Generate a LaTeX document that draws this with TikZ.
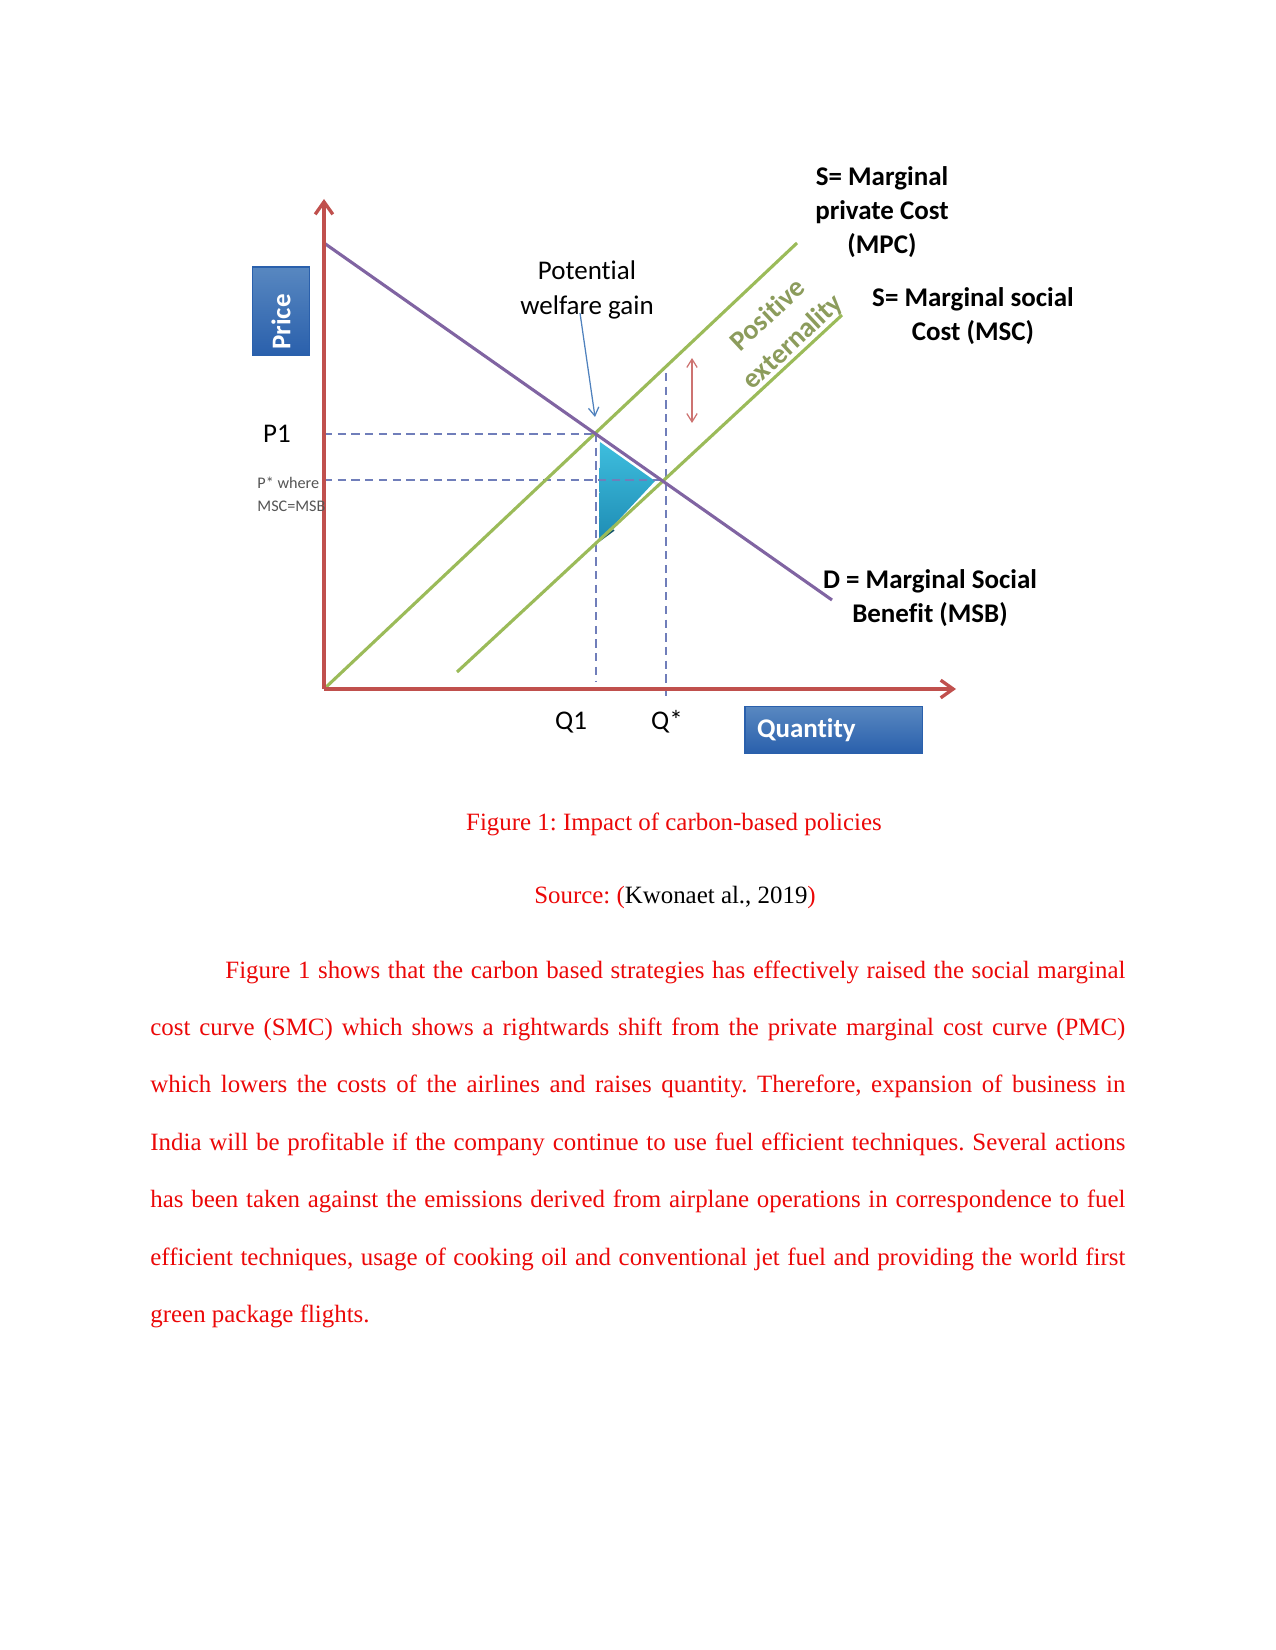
\documentclass[tikz,border=0pt]{standalone}
\usepackage{xcolor}
\usepackage{fontspec}
\setmainfont{Liberation Serif}
\newfontfamily\chartfont[Ligatures={NoCommon}]{Carlito}
\usepackage{tikz}
\usetikzlibrary{arrows.meta,positioning}
\frenchspacing

\definecolor{axisred}{HTML}{C0504D}
\definecolor{supgreen}{HTML}{9BBB59}
\definecolor{dempurple}{HTML}{8064A2}
\definecolor{dashblue}{RGB}{112,126,186}
\definecolor{boxblue}{HTML}{4F81BD}
\definecolor{boxdark}{RGB}{42,96,172}
\definecolor{extolive}{RGB}{140,156,92}
\definecolor{gaincyan}{RGB}{62,190,222}
\definecolor{gaindark}{RGB}{30,140,180}
\definecolor{txtred}{RGB}{235,8,8}

\begin{document}
\begin{tikzpicture}[
    x=0.4818pt, y=-0.4818pt,
    axis/.style={line width=2pt, axisred, -{Straight Barb[length=6pt, width=8.5pt, line width=1.6pt]}},
    curve/.style={line width=1.5pt},
    guide/.style={dashblue, line width=0.7pt, dash pattern=on 4pt off 2.6pt},
    axisbox/.style={rectangle, draw=boxdark, line width=0.5pt, top color=boxblue!95!white, bottom color=boxdark, text=white, font=\chartfont\bfseries\fontsize{13}{15}\selectfont, align=left},
    lbl/.style={font=\chartfont\fontsize{13}{16.6}\selectfont, align=center, inner sep=0pt},
    boldlbl/.style={font=\chartfont\bfseries\fontsize{13}{16.4}\selectfont, align=center, inner sep=0pt},
    para/.style={txtred, font=\fontsize{12}{27.7}\selectfont, inner sep=0pt}
]
\useasboundingbox (0,0) rectangle (1275,1650);

% Key points
\coordinate (o) at (324,689);
\coordinate (ytip) at (324,199);
\coordinate (xtip) at (956,689);
\coordinate (e1) at (596,434);
\coordinate (estar) at (666,480);

% Welfare triangle
\shade[top color=gaincyan, bottom color=gaindark] (600,442) -- (655,481) -- (599,541) -- cycle;
\draw[gaindark!60!black, line width=0.8pt] (599,541) -- (614,530);

% Dashed guides
\draw[guide] (324,434) -- (e1);
\draw[guide] (324,480) -- (estar);
\draw[guide] (e1) -- (596,682);
\draw[guide] (666,373) -- (666,698);

% Curves
\draw[curve, supgreen] (o) -- (797,243);
\draw[curve, supgreen] (457,672) -- (842,315);
\draw[curve, dempurple] (324,243) -- (832,600);

% Axes
\draw[axis] (o) -- (ytip);
\draw[axis] (o) -- (xtip);

% Axis boxes
\node[axisbox, rotate=90, minimum width=42.4pt, minimum height=27.9pt, inner xsep=2.5pt, text width=37.4pt] (price) at (281,311) {Price};
\node[axisbox, minimum width=85.3pt, minimum height=22.2pt, inner xsep=5.8pt, text width=73.7pt] (quantity) at (833.5,730) {Quantity};

% Levels
\node[lbl] (p1) at (277,434) {P1};
\node[font=\chartfont\fontsize{7.8}{11}\selectfont, text={rgb,255:red,85;green,85;blue,85}, align=left, inner sep=0pt, anchor=west] (pstar) at (257,494) {P* where\\MSC=MSB};
\node[lbl] (q1) at (571,723) {Q1};
\node[lbl] (qstar) at (667,722) {Q*};

% Curve labels
\node[boldlbl] (mpc) at (882,212) {S= Marginal\\private Cost\\(MPC)};
\node[boldlbl] (msc) at (973,316) {S= Marginal social\\Cost (MSC)};
\node[boldlbl] (msb) at (930,598) {D = Marginal Social\\Benefit (MSB)};
\node[font=\chartfont\bfseries\fontsize{13.5}{17.6}\selectfont, extolive, align=center, inner sep=0pt, rotate=43] (posext) at (781,329) {Positive\\externality};

% Welfare gain
\node[lbl] (gain) at (587,290) {Potential\\welfare gain};
\coordinate (gaintip) at (595,417);
\draw[boxblue, line width=0.6pt, -{Straight Barb[length=4pt, width=5pt]}] (580,313) -- (gaintip);

% Externality gap
\draw[axisred!80!white, line width=0.6pt, {Straight Barb[length=4pt, width=5pt]}-{Straight Barb[length=4pt, width=5pt]}] (692,358) -- (692,423);

% Caption
\node[para, anchor=base] (caption) at (674,830) {Figure 1: Impact of carbon-based policies};
\node[para, anchor=base] (source) at (675,903) {Source: (\textcolor{black}{Kwonaet al., 2019})};

% Body text
\node[para, anchor=base west, text width=6.5in, align=justify] (body) at (150,978) {\hspace*{0.5in}Figure 1 shows that the carbon based strategies has effectively raised the social marginal\linebreak
cost curve (SMC) which shows a rightwards shift from the private marginal cost curve (PMC)\linebreak
which lowers the costs of the airlines and raises quantity. Therefore, expansion of business in\linebreak
India will be profitable if the company continue to use fuel efficient techniques. Several actions\linebreak
has been taken against the emissions derived from airplane operations in correspondence to fuel\linebreak
efficient techniques, usage of cooking oil and conventional jet fuel and providing the world first\linebreak
green package flights.};

\end{tikzpicture}
\end{document}
